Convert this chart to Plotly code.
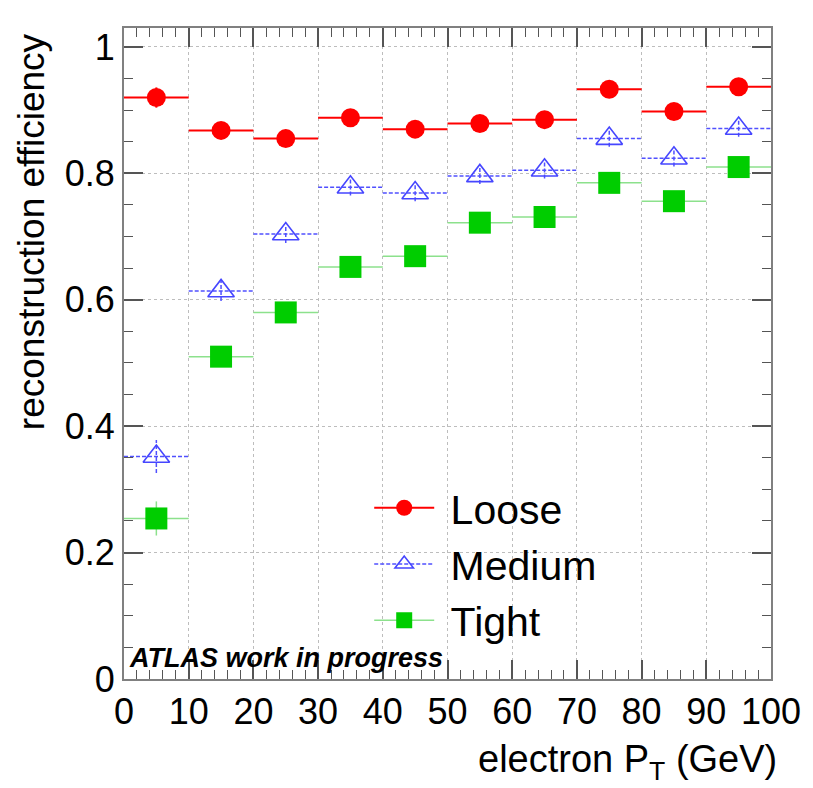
import plotly.graph_objects as go

# ---- data ----
bin_edges = [0, 10, 20, 30, 40, 50, 60, 70, 80, 90, 100]
bin_centers = [5, 15, 25, 35, 45, 55, 65, 75, 85, 95]

loose = [0.920, 0.868, 0.855, 0.888, 0.870, 0.879, 0.885, 0.933, 0.898, 0.937]
loose_err = [0.016, 0.008, 0.008, 0.008, 0.008, 0.008, 0.008, 0.008, 0.008, 0.008]

medium = [0.352, 0.614, 0.704, 0.778, 0.769, 0.796, 0.805, 0.855, 0.824, 0.871]
medium_err = [0.026, 0.016, 0.014, 0.013, 0.013, 0.013, 0.013, 0.013, 0.013, 0.013]

tight = [0.254, 0.510, 0.580, 0.652, 0.669, 0.722, 0.731, 0.785, 0.756, 0.810]
tight_err = [0.027, 0.010, 0.010, 0.010, 0.010, 0.010, 0.010, 0.010, 0.010, 0.010]

x_ticks = [0, 10, 20, 30, 40, 50, 60, 70, 80, 90, 100]
y_ticks = [0, 0.2, 0.4, 0.6, 0.8, 1]
y_ticklabels = ["0", "0.2", "0.4", "0.6", "0.8", "1"]

series = [
    dict(name="Loose", y=loose, err=loose_err, line="rgb(255,0,0)", dash="solid", lw=2,
         mcolor="rgb(255,0,0)", symbol="circle", size=19, mline=0),
    dict(name="Medium", y=medium, err=medium_err, line="rgb(80,80,255)", dash="4px,2px", lw=1.5,
         mcolor="rgb(70,70,255)", symbol="triangle-up-open", size=23, mline=1.6),
    dict(name="Tight", y=tight, err=tight_err, line="rgb(140,225,140)", dash="solid", lw=1.5,
         mcolor="rgb(0,205,0)", symbol="square", size=22, mline=0),
]

FONT = "Liberation Sans, Arial, Helvetica, sans-serif"

fig = go.Figure()

for s in series:
    xs, ys = [], []
    for i, c in enumerate(bin_centers):
        v = s["y"][i]
        e = s["err"][i]
        xs += [bin_edges[i], bin_edges[i + 1], None, c, c, None]
        ys += [v, v, None, v - e, v + e, None]
    fig.add_trace(go.Scatter(
        x=xs, y=ys, mode="lines", showlegend=False, hoverinfo="skip",
        line=dict(color=s["line"], width=s["lw"], dash=s["dash"]),
    ))
    fig.add_trace(go.Scatter(
        x=bin_centers, y=s["y"], mode="markers", showlegend=False,
        marker=dict(color=s["mcolor"], symbol=s["symbol"], size=s["size"],
                    line=dict(color=s["mcolor"], width=s["mline"])),
    ))
    # legend entry (line + marker)
    fig.add_trace(go.Scatter(
        x=[None], y=[None], mode="lines+markers", name="\u00a0" + s["name"],
        line=dict(color=s["line"], width=s["lw"], dash=s["dash"]),
        marker=dict(color=s["mcolor"], symbol=s["symbol"], size=s["size"],
                    line=dict(color=s["mcolor"], width=s["mline"])),
    ))

axis_common = dict(
    showline=True, linecolor="#808080", linewidth=2, mirror="allticks",
    ticks="inside", ticklen=19, tickwidth=1.5, tickcolor="#555555",
    showgrid=True, gridcolor="#bdbdbd", gridwidth=1, griddash="dot",
    zeroline=False,
    tickfont=dict(family=FONT, size=36, color="black"),
)

fig.update_xaxes(
    range=[0, 100], tickvals=x_ticks, ticktext=[str(t) for t in x_ticks],
    minor=dict(ticks="inside", ticklen=9, dtick=2, tickwidth=1.2, tickcolor="#555555", showgrid=False),
    **axis_common,
)
fig.update_yaxes(
    range=[0, 1.03], tickvals=y_ticks, ticktext=y_ticklabels,
    minor=dict(ticks="inside", ticklen=9, dtick=0.05, tickwidth=1.2, tickcolor="#555555", showgrid=False),
    **axis_common,
)

fig.update_layout(
    width=813, height=788,
    margin=dict(l=124, r=34, t=28, b=109),
    paper_bgcolor="white", plot_bgcolor="white",
    font=dict(family=FONT, color="black"),
    showlegend=True,
    legend=dict(
        x=0.379, y=0.314, xanchor="left", yanchor="top",
        bgcolor="rgba(0,0,0,0)", borderwidth=0,
        font=dict(family=FONT, size=41, color="black"),
        itemwidth=60, tracegroupgap=0,
    ),
    annotations=[
        dict(text="reconstruction efficiency", textangle=-90,
             xref="paper", yref="paper", x=-0.1435, y=0.6866,
             xanchor="center", yanchor="middle", showarrow=False,
             font=dict(family=FONT, size=37, color="black")),
        dict(text="electron P<sub>T</sub> (GeV)",
             xref="paper", yref="paper", x=1.012, y=-0.128,
             xanchor="right", yanchor="middle", showarrow=False,
             font=dict(family=FONT, size=38, color="black")),
        dict(text="<b><i>ATLAS work in progress</i></b>",
             xref="paper", yref="paper", x=0.004, y=0.032,
             xanchor="left", yanchor="middle", showarrow=False,
             font=dict(family=FONT, size=27, color="black")),
    ],
)

fig.write_html("out.html")
